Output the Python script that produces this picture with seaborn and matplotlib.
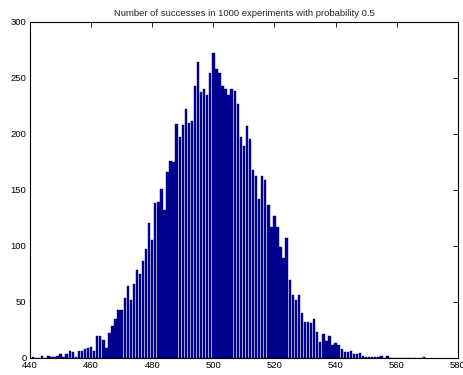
import matplotlib
matplotlib.use('Agg')
import matplotlib.pyplot as plt
import numpy as np
import seaborn as sns
import pandas as pd

# number of successes (bin centres) and how often each occurred
successes = list(range(441, 570))
counts = [1, 0, 0, 2, 0, 2, 1, 1, 2, 3,          # 441-450
          1, 3, 6, 5, 1, 6, 6, 8, 9, 10,         # 451-460
          6, 19, 19, 16, 9, 22, 28, 35, 43, 43,  # 461-470
          53, 64, 52, 66, 78, 75, 86, 97, 120, 105,   # 471-480
          138, 139, 151, 132, 166, 176, 175, 209, 197, 208,  # 481-490
          222, 210, 211, 243, 264, 237, 240, 235, 254, 272,  # 491-500
          258, 254, 243, 240, 235, 240, 238, 227, 197, 189,  # 501-510
          207, 195, 168, 162, 142, 162, 159, 136, 117, 127,  # 511-520
          117, 99, 89, 107, 69, 56, 52, 56, 40, 32,          # 521-530
          32, 31, 35, 23, 14, 21, 15, 19, 11, 13,            # 531-540
          11, 8, 5, 5, 6, 3, 3, 4, 2, 1,                     # 541-550
          1, 1, 1, 1, 2, 0, 2, 0, 0, 0,                      # 551-560
          0, 0, 0, 0, 0, 0, 0, 0, 1]                         # 561-569
title = 'Number of successes in 1000 experiments with probability 0.5'
xticks = list(range(440, 581, 20))
yticks = list(range(0, 301, 50))

df = pd.DataFrame({'successes': successes, 'count': counts})

sns.set_style('white')
plt.rcParams['font.family'] = ['Liberation Sans', 'DejaVu Sans']

fig = plt.figure(figsize=(4.63, 3.75), dpi=100)
ax = fig.add_axes([0.0648, 0.046, 0.924, 0.896])

sns.histplot(data=df, x='successes', weights='count', discrete=True, shrink=0.78,
             color='#00008f', edgecolor='#00008f', linewidth=0.3, alpha=1, ax=ax)

ax.set_xlim(440, 580)
ax.set_ylim(0, 300)
ax.set_xticks(xticks)
ax.set_yticks(yticks)
ax.set_xlabel('')
ax.set_ylabel('')
ax.set_title(title, fontsize=6.8, pad=4)

ax.tick_params(direction='in', length=3.5, width=0.6, labelsize=6.8,
               top=True, right=True, pad=2.5, colors='black')
for side in ax.spines.values():
    side.set_visible(True)
    side.set_color('black')
    side.set_linewidth(0.8)

fig.savefig('out.png', dpi=100)
